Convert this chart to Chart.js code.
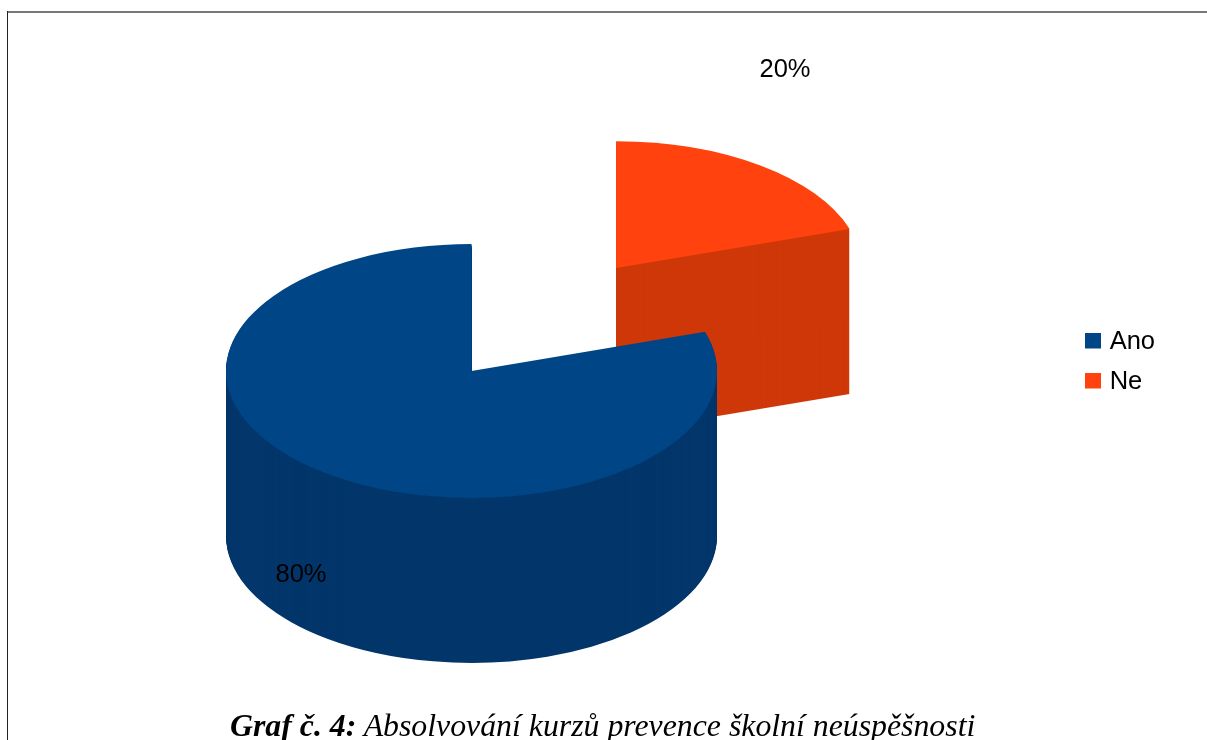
<!DOCTYPE html>
<html lang="cs">
<head>
<meta charset="utf-8">
<title>Graf č. 4</title>
<style>
  html, body { margin: 0; padding: 0; background: #fff; overflow: hidden; }
  #wrap { position: relative; width: 1207px; height: 740px; overflow: hidden; }
  #graf { position: absolute; left: 0; top: 0; }
  .frame-top { position: absolute; left: 7px; right: 0; top: 11px; height: 2px; background: #777; }
  .frame-left { position: absolute; left: 7px; top: 11px; bottom: 0; width: 1px; background: #222; }
  #popisek {
    position: absolute; left: 230px; top: 708px; white-space: nowrap;
    font: italic 31.8px "Liberation Serif", serif; line-height: 36px; color: #000;
  }
</style>
</head>
<body>
<div id="wrap">
  <div class="frame-top"></div>
  <div class="frame-left"></div>
  <canvas id="graf" width="1207" height="740"></canvas>
  <div id="popisek"><b>Graf č. 4:</b> Absolvování kurzů prevence školní neúspěšnosti</div>
</div>
<script src="https://cdn.jsdelivr.net/npm/chart.js@4"></script>
<script>
const KATEGORIE = ['Ano', 'Ne'];
const HODNOTY = [80, 20];
const BARVY = ['#004586', '#ff420e'];
const BARVY_BOK = ['#03366a', '#cf3809'];

// vysunuti vysece od stredu, v px pred zplostenim
const VYSUNUTI = [0, 246];
const POPISKY_XY = [[301, 575], [785, 70]];

const STRED_X = 471.5;
const STRED_Y = 371;
const POLOMER = 245.5;
const ZPLOSTENI = 0.517;
const HLOUBKA = 165;
const VELIKOST_ZNACKY = 16;

// kresli kolac jako zplostely valec: bok se navrstvi z kopii vysece, nahore je vrch
const kolac3d = {
  id: 'kolac3d',
  beforeDatasetsDraw(chart) {
    const ctx = chart.ctx;
    const oblouky = chart.getDatasetMeta(0).data;

    [1, 0].forEach(i => {
      const oblouk = oblouky[i];
      const uhel = (oblouk.startAngle + oblouk.endAngle) / 2;
      const dx = Math.cos(uhel) * VYSUNUTI[i];
      const dy = Math.sin(uhel) * VYSUNUTI[i];

      const nakresli = (prvek, posun) => {
        ctx.save();
        ctx.translate(STRED_X, STRED_Y + posun);
        ctx.scale(1, ZPLOSTENI);
        ctx.translate(dx - oblouk.x, dy - oblouk.y);
        prvek.draw(ctx);
        ctx.restore();
      };

      const bok = Object.create(oblouk);
      bok.options = {
        backgroundColor: BARVY_BOK[i],
        borderWidth: 0,
        borderRadius: 0,
        offset: 0,
        spacing: 0,
        circular: true,
      };
      for (let posun = HLOUBKA; posun > 0; posun--) {
        nakresli(bok, posun);
      }
      nakresli(oblouk, 0);
    });

    ctx.save();
    ctx.font = '25.5px "Liberation Sans", sans-serif';
    ctx.fillStyle = '#000';
    ctx.textAlign = 'center';
    ctx.textBaseline = 'middle';
    HODNOTY.forEach((hodnota, i) => {
      ctx.fillText(hodnota + '%', POPISKY_XY[i][0], POPISKY_XY[i][1]);
    });
    ctx.restore();

    return false;
  },
};

// ctvercova znacka legendy, sirsi nez boxWidth, aby text zacinal bliz;
// prazdne misto dole ji zvedne na stred textu
const znacka = barva => {
  const platno = document.createElement('canvas');
  platno.width = VELIKOST_ZNACKY;
  platno.height = VELIKOST_ZNACKY + 3;
  const c = platno.getContext('2d');
  c.fillStyle = barva;
  c.fillRect(0, 0, VELIKOST_ZNACKY, VELIKOST_ZNACKY);
  return platno;
};

new Chart(document.getElementById('graf'), {
  type: 'pie',
  plugins: [kolac3d],
  data: {
    labels: KATEGORIE,
    datasets: [
      {
        data: HODNOTY,
        backgroundColor: BARVY,
        borderWidth: 0,
      },
    ],
  },
  options: {
    responsive: false,
    animation: false,
    events: [],
    rotation: 72,
    radius: POLOMER,
    layout: { padding: { right: 42, bottom: 16 } },
    plugins: {
      tooltip: { enabled: false },
      legend: {
        position: 'right',
        labels: {
          usePointStyle: true,
          boxWidth: 7,
          padding: 14.5,
          color: '#000',
          font: { family: '"Liberation Sans", sans-serif', size: 25.5 },
          generateLabels: chart =>
            Chart.overrides.pie.plugins.legend.labels
              .generateLabels(chart)
              .map((polozka, i) => ({ ...polozka, pointStyle: znacka(BARVY[i]) })),
        },
      },
    },
  },
});
</script>
</body>
</html>
